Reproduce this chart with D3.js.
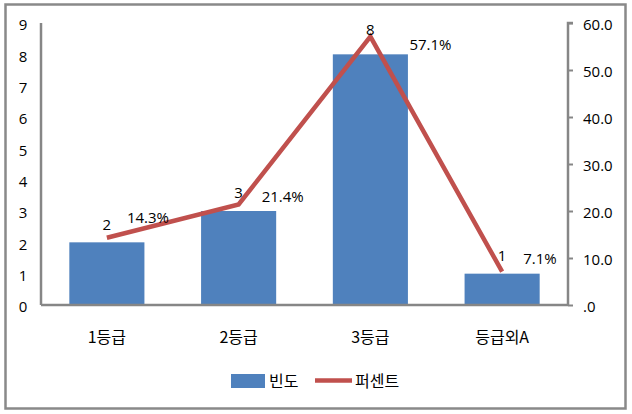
<!DOCTYPE html>
<html><head><meta charset="utf-8">
<script src="https://cdn.jsdelivr.net/npm/d3@7"></script>
<style>
body{margin:0;background:#fff;}
text{font-family:"Open Sans","Noto Sans CJK KR",sans-serif;fill:#000;}
.kr{font-family:"Noto Sans CJK KR",sans-serif;}
</style></head>
<body>
<script>
const categories = ["1등급", "2등급", "3등급", "등급외A"];
const frequency = [2, 3, 8, 1];
const percent = [14.3, 21.4, 57.1, 7.1];
const percentLabels = ["14.3%", "21.4%", "57.1%", "7.1%"];
const leftTicks = [0,1,2,3,4,5,6,7,8,9];
const rightTicks = [0,10,20,30,40,50,60];
const rightTickLabels = [".0","10.0","20.0","30.0","40.0","50.0","60.0"];
const seriesNames = ["빈도", "퍼센트"];

// label nudges (layout only)
const pctDx = [20, 23, 39, 21];
const pctDy = [-15, -2, 13, -8];
const barLabelDy = [-12, -13, -19, -13];

const W = 632, H = 414;
const svg = d3.select("body").append("svg").attr("width", W).attr("height", H);

svg.append("rect").attr("x",5.5).attr("y",4.5).attr("width",620).attr("height",404)
  .attr("fill","#fff").attr("stroke","#898989").attr("stroke-width",2.5);

const L = 41, R = 568, T = 23, B = 305;
const x = d3.scaleBand().domain(categories).range([L, R]).paddingInner(0.43).paddingOuter(0.215);
const y = d3.scaleLinear().domain([0, 9]).range([B, T]);
const y2 = d3.scaleLinear().domain([0, 60]).range([B, T]);
const axisColor = "#868686";

// bars
svg.selectAll("rect.bar").data(frequency).enter().append("rect")
  .attr("x", (d,i) => x(categories[i]))
  .attr("y", d => y(d))
  .attr("width", x.bandwidth())
  .attr("height", d => B - y(d))
  .attr("fill", "#4F81BD");

// axes
const gL = svg.append("g").attr("transform", `translate(${L},0)`)
  .call(d3.axisLeft(y).tickValues(leftTicks).tickSize(0).tickPadding(18).tickFormat(d3.format("d")));
const gR = svg.append("g").attr("transform", `translate(${R},0)`)
  .call(d3.axisRight(y2).tickValues(rightTicks).tickSize(5).tickPadding(10).tickFormat((d,i) => rightTickLabels[i]));
const gB = svg.append("g").attr("transform", `translate(0,${B})`)
  .call(d3.axisBottom(x).tickSize(0).tickPadding(27));
[gL, gR, gB].forEach(g => {
  g.select(".domain").attr("stroke", axisColor).attr("stroke-width", 2.5);
  g.selectAll(".tick line").attr("stroke", axisColor).attr("stroke-width", 2);
  g.selectAll("text").style("font-size", "15px").attr("fill", "#000").attr("dy", "0.45em");
});
gL.selectAll("text").attr("text-anchor","middle");
gB.selectAll("text").attr("class","kr").style("font-size","16px").attr("dy","0.71em");
gR.select(".domain").attr("d", `M5,${T}H0V${B}`);
gL.select(".domain").attr("d", `M0,${T}V${B}`);
gB.select(".domain").attr("d", `M${L},0H${R}`);

// line
const cx = i => x(categories[i]) + x.bandwidth()/2;
const line = d3.line().x((d,i) => cx(i)).y(d => y2(d));
svg.append("path").datum(percent).attr("d", line)
  .attr("fill","none").attr("stroke","#C0504D").attr("stroke-width",4.5).attr("stroke-linejoin","miter");

// bar labels
svg.selectAll("text.bl").data(frequency).enter().append("text")
  .attr("class","bl")
  .attr("x", (d,i) => cx(i))
  .attr("y", (d,i) => y(d) + barLabelDy[i])
  .attr("text-anchor","middle").style("font-size","15px")
  .text(d => d);

// percent labels
svg.selectAll("text.pl").data(percent).enter().append("text")
  .attr("class","pl")
  .attr("x", (d,i) => cx(i) + pctDx[i])
  .attr("y", (d,i) => y2(d) + pctDy[i])
  .attr("text-anchor","start").style("font-size","15px")
  .text((d,i) => percentLabels[i]);

// legend
const lg = svg.append("g");
lg.append("rect").attr("x",231).attr("y",374).attr("width",34).attr("height",14).attr("fill","#4F81BD");
lg.append("text").attr("class","kr").attr("x",269).attr("y",387).style("font-size","16px").text(seriesNames[0]);
lg.append("line").attr("x1",315).attr("x2",352).attr("y1",380.5).attr("y2",380.5)
  .attr("stroke","#C0504D").attr("stroke-width",4.5);
lg.append("text").attr("class","kr").attr("x",355).attr("y",387).style("font-size","16px").text(seriesNames[1]);
</script>
</body></html>
